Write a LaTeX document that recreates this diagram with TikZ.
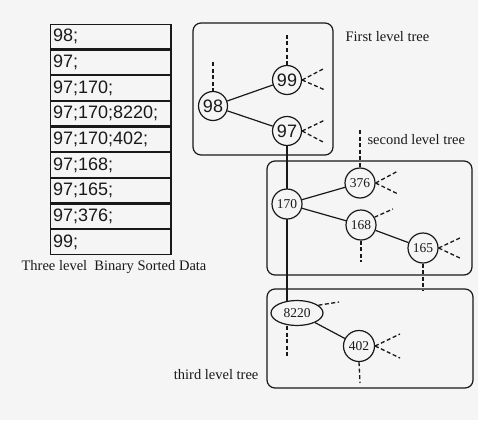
\documentclass[tikz,border=0pt]{standalone}
\usepackage{fontspec}
\setmainfont{Liberation Serif}
\newfontfamily\arialf{Liberation Sans}
\usetikzlibrary{shapes.geometric}
\definecolor{bgc}{RGB}{245,245,245}
\definecolor{ink}{RGB}{25,25,25}
\begin{document}
\begin{tikzpicture}[x=1pt,y=-1pt, color=ink, line width=1.2pt,
  cell/.style={draw=ink, line width=1.2pt, minimum width=120pt, minimum height=24.44pt,
    text width=115pt, align=left, inner xsep=2.5pt, inner ysep=0pt, anchor=north west,
    font=\arialf\fontsize{18}{18}\selectfont},
  anode/.style={circle, draw=ink, line width=1.2pt, minimum size=29pt, inner sep=0pt,
    font=\arialf\fontsize{18}{18}\selectfont, fill=bgc},
  tnode/.style={circle, draw=ink, line width=1.2pt, minimum size=30pt, inner sep=0pt,
    font=\fontsize{13.5}{13.5}\selectfont, fill=bgc},
  lbl/.style={font=\fontsize{14.5}{14.5}\selectfont, inner sep=0pt},
  levelbox/.style={draw=ink, line width=1.2pt, rounded corners=8pt},
  dsh/.style={dash pattern=on 4pt off 2.5pt, line width=1.3pt}]
\fill[bgc] (0,0) rectangle (478,420);
\useasboundingbox (0,0) rectangle (478,420);

% table
\node[cell] (r1) at (50,24) {98;};
\node[cell] (r2) at (r1.south west) {97;};
\node[cell] (r3) at (r2.south west) {97;170;};
\node[cell] (r4) at (r3.south west) {97;170;8220;};
\node[cell] (r5) at (r4.south west) {97;170;402;};
\node[cell] (r6) at (r5.south west) {97;168;};
\node[cell] (r7) at (r6.south west) {97;165;};
\node[cell] (r8) at (r7.south west) {97;376;};
\node[cell] (r9) at (r8.south west) {99;};
\draw[line width=2pt] (r1.north east) -- (r9.south east);
\node[lbl, anchor=west] (cap) at (21,267) {Three level\ \ Binary Sorted Data};

% level boxes
\draw[levelbox] (193,23) rectangle (333,155);
\draw[levelbox] (267,161) rectangle (472,275);
\draw[levelbox] (267,289) rectangle (473,388);

\node[lbl, anchor=west] (l1) at (345,37) {First level tree};
\node[lbl, anchor=west] (l2) at (367,140) {second level tree};
\node[lbl, anchor=east] (l3) at (259,375) {third level tree};

% coordinates for free ends
\coordinate (d98) at (213,62);
\coordinate (d99) at (287,35);
\coordinate (f99a) at (325,68);
\coordinate (f99b) at (325,90);
\coordinate (f97a) at (325,120);
\coordinate (f97b) at (325,143);
\coordinate (d376) at (360,130);
\coordinate (f376a) at (398,171);
\coordinate (f376b) at (398,194);
\coordinate (f168) at (393,209);
\coordinate (d168) at (361,262);
\coordinate (f165a) at (462,237);
\coordinate (f165b) at (462,259);
\coordinate (d165) at (423,290);
\coordinate (f8220) at (339,302);
\coordinate (d8220) at (287,357);
\coordinate (f402a) at (400,334);
\coordinate (f402b) at (400,358);
\coordinate (d402) at (360,383);

% solid trunk line
\coordinate (t97) at (287,131);
\coordinate (t170) at (287,204);
\draw (t97) -- (t170);
\draw (t170) -- (287,302);

% nodes
\node[anode] (n98) at (213,106) {98};
\node[anode] (n99) at (287,80) {99};
\node[anode] (n97) at (t97) {97};
\node[tnode] (n170) at (t170) {170};
\node[tnode] (n376) at (360,183) {376};
\node[tnode] (n168) at (361,225) {168};
\node[tnode] (n165) at (423,248) {165};
\node[ellipse, draw=ink, line width=1.2pt, minimum width=52pt, minimum height=25pt, inner sep=0pt,
  font=\fontsize{13.5}{13.5}\selectfont, fill=bgc] (n8220) at (297,313) {8220};
\node[tnode, minimum size=31pt] (n402) at (359,346) {402};

% solid edges
\draw (n98) -- (n99);
\draw (n98) -- (n97);
\draw (n170) -- (n376);
\draw (n170) -- (n168);
\draw (n168) -- (n165);
\draw (n8220) -- (n402);

% dashed edges
\draw[dsh] (d98) -- (n98.north);
\draw[dsh] (d99) -- (n99.north);
\draw[dsh] (n99.east) -- (f99a);
\draw[dsh] (n99.east) -- (f99b);
\draw[dsh] (n97.east) -- (f97a);
\draw[dsh] (n97.east) -- (f97b);
\draw[dsh] (d376) -- (n376.north);
\draw[dsh] (n376.east) -- (f376a);
\draw[dsh] (n376.east) -- (f376b);
\draw[dsh] (n168.30) -- (f168);
\draw[dsh] (n168.south) -- (d168);
\draw[dsh] (n165.east) -- (f165a);
\draw[dsh] (n165.east) -- (f165b);
\draw[dsh] (n165.south) -- (d165);
\draw[dsh] (n8220.20) -- (f8220);
\draw[dsh] (d8220 |- n8220.south) -- (d8220);
\draw[dsh] (n402.east) -- (f402a);
\draw[dsh] (n402.east) -- (f402b);
\draw[dsh] (n402.south) -- (d402);
\end{tikzpicture}
\end{document}
